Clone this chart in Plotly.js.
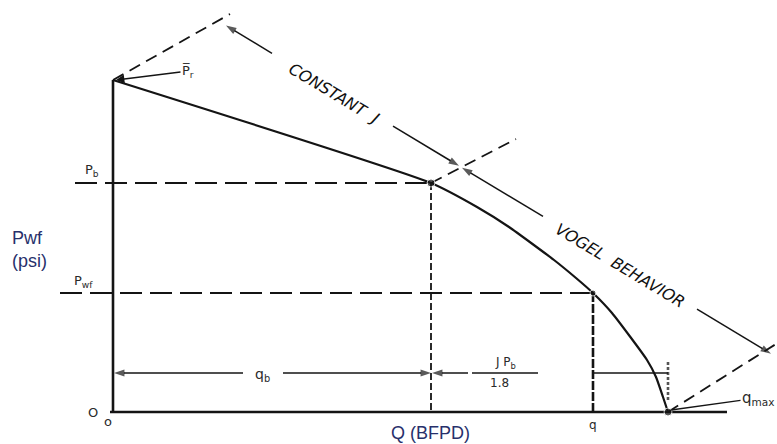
<!DOCTYPE html>
<html>
<head>
<meta charset="utf-8">
<script src="https://cdn.plot.ly/plotly-3.0.1.min.js"></script>
<style>
  html, body { margin: 0; padding: 0; background: #fff; }
  #chart { width: 777px; height: 444px; }
</style>
</head>
<body>
<div id="chart"></div>
<script>
// Average reservoir pressure, bubble-point pressure and flowing pressure (psi)
const PR = 3320;
const PB = 2290;
const PWF = 1190;

// Rate at the bubble point, rate at Pwf and the maximum rate (BFPD)
const QB = 318;
const Q = 480;
const QMAX = 555;

// Composite IPR: straight line (constant J) above Pb, Vogel curve below it
const iprRate = [0, 318, 364, 396, 441, 463, 480, 499, 534, 543, 550, 555];
const iprPwf = [3320, 2290, 2050, 1850, 1520, 1340, 1190, 990, 520, 350, 150, 0];

// Axis extents (the frame has no tick marks)
const X_RANGE = [-113, 664];
const Y_RANGE = [-320, 4120];

// Decorations are placed by canvas pixel; these turn a pixel into axis units
const W = 777, H = 444;
const cx = p => X_RANGE[0] + (X_RANGE[1] - X_RANGE[0]) * p / W;
const cy = p => Y_RANGE[1] - (Y_RANGE[1] - Y_RANGE[0]) * p / H;

const INK = '#141414';
const NAVY = '#27306b';
const DRAFT_FONT = 'DejaVu Sans, Liberation Sans, sans-serif';

function seg(x, y, width, dash, color) {
  return {
    type: 'scatter', mode: 'lines', x: x, y: y, hoverinfo: 'skip',
    line: { color: color || INK, width: width, dash: dash || 'solid' }
  };
}

// Dimension segment from tail to head with an arrowhead at the head
function arrowSeg(tx, ty, hx, hy) {
  return {
    type: 'scatter', mode: 'lines+markers', x: [tx, hx], y: [ty, hy], hoverinfo: 'skip',
    line: { color: INK, width: 1.5 },
    marker: { symbol: 'arrow', angleref: 'previous', size: [0, 11], color: INK, line: { width: 0 } }
  };
}

// upper dimension line runs along y = 25 + 0.602 (x - 225) in pixels
const dimY = x => 25 + 0.602 * (x - 225);
const dimPt = x => [cx(x), cy(dimY(x))];

function dimArrow(tailPx, headPx) {
  const t = dimPt(tailPx), h = dimPt(headPx);
  return arrowSeg(t[0], t[1], h[0], h[1]);
}

const traces = [
  // frame
  seg([0, 0], [0, PR], 2.6),
  seg([cx(110), cx(727)], [0, 0], 2.6),
  // pressure reference levels
  seg([cx(75), QB], [PB, PB], 2, '22px,8px'),
  seg([cx(60), Q], [PWF, PWF], 2, '22px,8px'),
  // rate drop lines
  seg([QB, QB], [PB, 0], 1.8, '7px,3px'),
  seg([Q, Q], [PWF, 0], 2.6, '9px,2px'),
  seg([QMAX, QMAX], [cy(362), cy(402)], 2.6, '3px,2px', '#555'),
  // dimension pieces along the q_b / J·Pb/1.8 row
  seg([Q, QMAX], [cy(373), cy(373)], 1.4),
  seg([cx(472), cx(538)], [cy(373), cy(373)], 1.3),
  arrowSeg(cx(243), cy(373), cx(114), cy(373)),
  arrowSeg(cx(283), cy(373), QB, cy(373)),
  arrowSeg(cx(468), cy(373), cx(432), cy(373)),
  // extension lines of the upper dimension
  seg([0, cx(230)], [PR, cy(14)], 1.8, '12px,7px'),
  seg([QB, cx(516)], [PB, cy(139)], 1.8, '12px,7px'),
  seg([QMAX, cx(776)], [0, cy(344)], 1.8, '12px,7px'),
  // constant-J / Vogel span
  dimArrow(272, 226),
  dimArrow(393, 459),
  dimArrow(543, 462),
  dimArrow(697, 771),
  // the IPR curve
  {
    type: 'scatter', mode: 'lines', x: iprRate, y: iprPwf, hoverinfo: 'skip',
    line: { color: INK, width: 2.2, shape: 'spline', smoothing: 0.5 }
  },
  // key points on the curve
  {
    type: 'scatter', mode: 'markers', x: [QB, Q, QMAX], y: [PB, PWF, 0],
    hoverinfo: 'skip', marker: { color: INK, size: [8, 6, 8] }
  }
];

function label(x, y, text, size, extra) {
  return Object.assign({
    x: x, y: y, xref: 'x', yref: 'y', text: text, showarrow: false,
    font: { family: DRAFT_FONT, size: size, color: '#2a2a2a' }
  }, extra || {});
}

const slanted = { family: DRAFT_FONT, size: 16, color: '#111111', style: 'italic' };

const annotations = [
  label(cx(334), cy(dimY(334) + 3), 'CONSTANT  J', 16, { textangle: 31, font: slanted }),
  label(cx(620), cy(dimY(620) + 3), 'VOGEL  BEHAVIOR', 16, { textangle: 31, font: slanted }),

  // pointer labels
  {
    x: cx(116), y: cy(80), ax: cx(188), ay: cy(71), xref: 'x', yref: 'y', axref: 'x', ayref: 'y',
    text: 'P\u0305<sub>r</sub>', showarrow: true, arrowhead: 2, arrowsize: 1.2, arrowwidth: 1.4,
    arrowcolor: INK, standoff: 0,
    font: { family: DRAFT_FONT, size: 13, color: '#2a2a2a' }
  },
  {
    x: cx(671), y: cy(410), ax: cx(758), ay: cy(398), xref: 'x', yref: 'y', axref: 'x', ayref: 'y',
    text: 'q<sub>max</sub>', showarrow: true, arrowhead: 0, arrowwidth: 1.3,
    arrowcolor: INK, standoff: 0,
    font: { family: DRAFT_FONT, size: 15, color: '#2a2a2a' }
  },

  label(cx(92), cy(170), 'P<sub>b</sub>', 13),
  label(cx(83), cy(281), 'P<sub>wf</sub>', 13),
  label(cx(262), cy(375), 'q<sub>b</sub>', 14),
  label(cx(505), cy(363), 'J P<sub>b</sub>', 12),
  label(cx(499), cy(383), '1.8', 12),
  label(Q, cy(425), 'q', 12),
  label(cx(93), cy(412), 'O', 13),
  label(cx(108), cy(421), 'o', 13),

  // axis titles
  {
    x: 10 / W, y: 1 - 249 / H, xref: 'paper', yref: 'paper', xanchor: 'left', yanchor: 'middle',
    align: 'left', text: 'Pwf<br>(psi)', showarrow: false,
    font: { family: 'Liberation Sans, Arial, sans-serif', size: 18, color: NAVY }
  },
  {
    x: 430 / W, y: 1 - 433 / H, xref: 'paper', yref: 'paper', xanchor: 'center', yanchor: 'middle',
    text: 'Q (BFPD)', showarrow: false,
    font: { family: 'Liberation Sans, Arial, sans-serif', size: 18, color: NAVY }
  }
];

const layout = {
  width: W, height: H,
  margin: { l: 0, r: 0, t: 0, b: 0 },
  paper_bgcolor: '#ffffff', plot_bgcolor: '#ffffff',
  showlegend: false,
  xaxis: { range: X_RANGE, visible: false, fixedrange: true },
  yaxis: { range: Y_RANGE, visible: false, fixedrange: true },
  annotations: annotations
};

Plotly.newPlot('chart', traces, layout, { staticPlot: true, displayModeBar: false });
</script>
</body>
</html>
